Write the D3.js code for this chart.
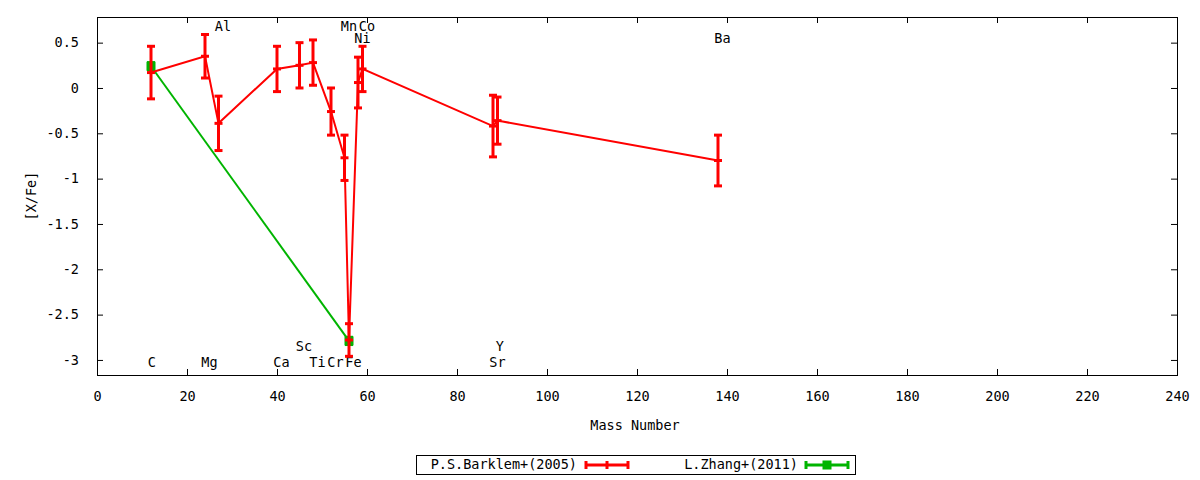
<!DOCTYPE html>
<html><head><meta charset="utf-8">
<script src="https://cdn.jsdelivr.net/npm/d3@7"></script>
<style>
body{margin:0;background:#fff;}
text{font-family:"DejaVu Sans Mono",monospace;font-size:13.5px;fill:#000;}
</style></head>
<body><svg id="c" width="1200" height="480"></svg>
<script>
// Barklem et al. (2005)
const barklemElements = ["C","Mg","Al","Ca","Sc","Ti","Cr","Mn","Fe","Ni","Co","Sr","Y","Ba"];
const barklemMass     = [12, 24, 27, 40, 45, 48, 52, 55, 56, 58, 59, 88, 89, 138];
const barklemValue    = [0.17, 0.35, -0.39, 0.21, 0.25, 0.28, -0.26, -0.77, -2.78, 0.06, 0.21, -0.42, -0.36, -0.80];
const barklemError    = [0.29, 0.24, 0.30, 0.25, 0.25, 0.25, 0.26, 0.25, 0.18, 0.28, 0.25, 0.34, 0.26, 0.28];
// Zhang et al. (2011)
const zhangMass  = [12, 56];
const zhangValue = [0.24, -2.79];
const zhangError = [0.04, 0.04];
// element labels
const labelText = ["C","Mg","Al","Ca","Sc","Ti","Cr","Mn","Fe","Ni","Co","Sr","Y","Ba"];
const labelX    = [12.2, 25, 28, 41, 46, 49, 53, 56, 57, 59, 60, 89, 89.5, 139];
const labelY    = [-3.035, -3.035, 0.67, -3.035, -2.86, -3.035, -3.035, 0.67, -3.035, 0.545, 0.67, -3.035, -2.86, 0.545];
// axes
const xTicks = [0,20,40,60,80,100,120,140,160,180,200,220,240];
const yTicks = [0.5,0,-0.5,-1,-1.5,-2,-2.5,-3];
const seriesNames = ["P.S.Barklem+(2005)","L.Zhang+(2011)"];

const L=97,R=1177,T=17,B=375;
const x=d3.scaleLinear().domain([0,240]).range([L,R]);
const y=d3.scaleLinear().domain([-3.166,0.783]).range([B,T]);
const svg=d3.select("#c");
const red="#ff0000", green="#00b400";

// axes ticks (all four sides)
const tl=6;
const fmtY=d=>d===0?"0":String(d);
svg.append("g").attr("transform",`translate(0,${B})`)
  .call(d3.axisBottom(x).tickValues(xTicks).tickSize(-tl).tickPadding(16).tickFormat(d3.format("d")))
  .call(g=>{g.select(".domain").remove();g.selectAll("text").attr("font-size",null).attr("font-family",null);});
svg.append("g").attr("transform",`translate(0,${T})`)
  .call(d3.axisTop(x).tickValues(xTicks).tickSize(-tl).tickFormat(""))
  .call(g=>g.select(".domain").remove());
svg.append("g").attr("transform",`translate(${L},0)`)
  .call(d3.axisLeft(y).tickValues(yTicks).tickSize(-tl).tickPadding(18).tickFormat(fmtY))
  .call(g=>{g.select(".domain").remove();g.selectAll("text").attr("font-size",null).attr("font-family",null);});
svg.append("g").attr("transform",`translate(${R},0)`)
  .call(d3.axisRight(y).tickValues(yTicks).tickSize(-tl).tickFormat(""))
  .call(g=>g.select(".domain").remove());
svg.selectAll(".tick line").attr("stroke","#000");
svg.append("rect").attr("x",L+0.5).attr("y",T+0.5).attr("width",R-L).attr("height",B-T)
  .attr("fill","none").attr("stroke","#000");

// axis titles
svg.append("text").attr("x",(L+R)/2-2).attr("y",430).attr("text-anchor","middle").text("Mass Number");
svg.append("text").attr("transform",`translate(36,${(T+B)/2}) rotate(-90)`).attr("text-anchor","middle").text("[X/Fe]");

// element labels
svg.append("g").selectAll("text").data(labelText).join("text")
  .attr("x",(d,i)=>x(labelX[i])).attr("y",(d,i)=>y(labelY[i]))
  .attr("text-anchor","middle").attr("dominant-baseline","middle").text(d=>d);

const line=d3.line().x(d=>x(d[0])).y(d=>y(d[1]));
const capW=4;

function series(mass,val,err,color,marker){
  const pts=mass.map((m,i)=>[m,val[i],err[i]]);
  const g=svg.append("g");
  g.append("path").attr("d",line(pts)).attr("fill","none").attr("stroke",color).attr("stroke-width",2);
  const eb=g.selectAll("g.eb").data(pts).join("g");
  eb.append("line").attr("x1",d=>x(d[0])).attr("x2",d=>x(d[0]))
    .attr("y1",d=>y(d[1]+d[2])).attr("y2",d=>y(d[1]-d[2])).attr("stroke",color).attr("stroke-width",3);
  [1,-1].forEach(s=>{
    eb.append("line").attr("x1",d=>x(d[0])-capW).attr("x2",d=>x(d[0])+capW)
      .attr("y1",d=>y(d[1]+s*d[2])).attr("y2",d=>y(d[1]+s*d[2])).attr("stroke",color).attr("stroke-width",3);
  });
  if(marker==="plus"){
    eb.append("line").attr("x1",d=>x(d[0])-capW).attr("x2",d=>x(d[0])+capW)
      .attr("y1",d=>y(d[1])).attr("y2",d=>y(d[1])).attr("stroke",color).attr("stroke-width",3);
  } else {
    eb.append("rect").attr("x",d=>x(d[0])-4.5).attr("y",d=>y(d[1])-4.5).attr("width",9).attr("height",9).attr("fill",color);
  }
}
series(zhangMass,zhangValue,zhangError,green,"square");
series(barklemMass,barklemValue,barklemError,red,"plus");

// legend
const lg=svg.append("g");
lg.append("rect").attr("x",416.5).attr("y",455.5).attr("width",439).attr("height",19).attr("fill","none").attr("stroke","#000");
const legItems=[{name:seriesNames[0],color:red,tx:577,x1:586,x2:628,m:"plus"},
                {name:seriesNames[1],color:green,tx:798,x1:806,x2:848,m:"square"}];
const ly=465;
legItems.forEach(it=>{
  lg.append("text").attr("x",it.tx).attr("y",ly).attr("text-anchor","end").attr("dominant-baseline","middle").text(it.name);
  lg.append("line").attr("x1",it.x1).attr("x2",it.x2).attr("y1",ly).attr("y2",ly).attr("stroke",it.color).attr("stroke-width",3);
  [it.x1,it.x2].forEach(xx=>lg.append("line").attr("x1",xx).attr("x2",xx).attr("y1",ly-4).attr("y2",ly+4).attr("stroke",it.color).attr("stroke-width",3));
  const mx=(it.x1+it.x2)/2;
  if(it.m==="plus") lg.append("line").attr("x1",mx).attr("x2",mx).attr("y1",ly-4).attr("y2",ly+4).attr("stroke",it.color).attr("stroke-width",3);
  else lg.append("rect").attr("x",mx-4.5).attr("y",ly-4.5).attr("width",9).attr("height",9).attr("fill",it.color);
});
</script></body></html>
